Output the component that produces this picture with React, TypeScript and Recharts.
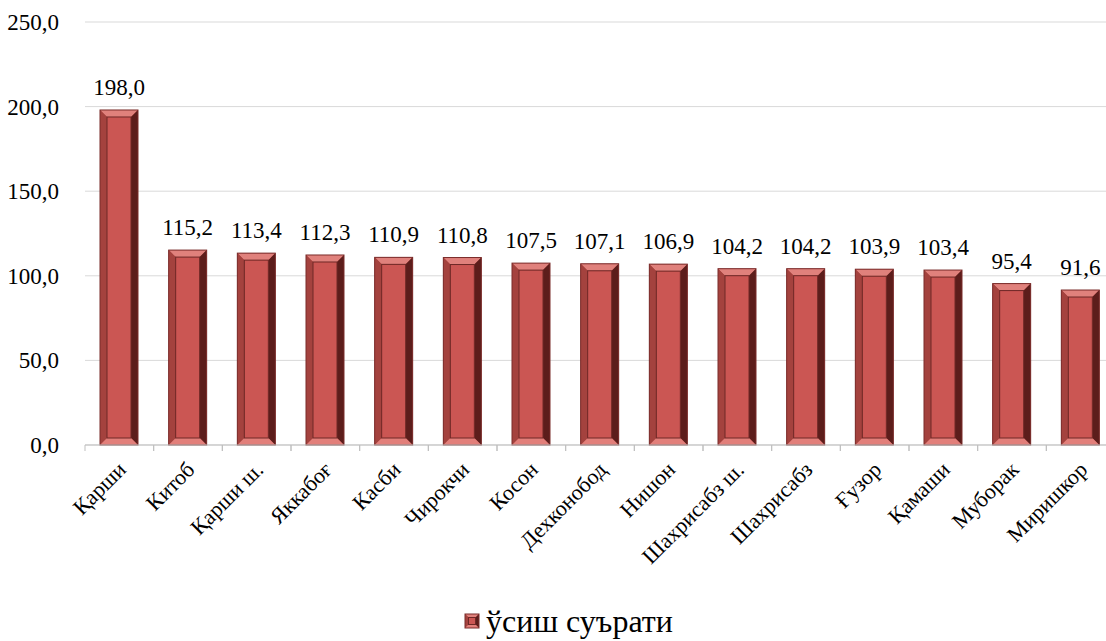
import React from 'react';
import { BarChart, Bar, XAxis, YAxis, CartesianGrid, LabelList, Legend } from 'recharts';

const districts = [
  'Қарши', 'Китоб', 'Қарши ш.', 'Яккабоғ', 'Касби', 'Чирокчи', 'Косон', 'Дехконобод',
  'Нишон', 'Шахрисабз ш.', 'Шахрисабз', 'Ғузор', 'Қамаши', 'Муборак', 'Миришкор',
];
const growth = [198.0, 115.2, 113.4, 112.3, 110.9, 110.8, 107.5, 107.1, 106.9, 104.2, 104.2, 103.9, 103.4, 95.4, 91.6];
const yTicks = [0, 50, 100, 150, 200, 250];
const seriesName = 'ўсиш суърати';

const data = districts.map((name, i) => ({ name, value: growth[i] }));

const serif = 'Liberation Serif, DejaVu Serif, serif';
const fmt = (v: any) => Number(v).toFixed(1).replace('.', ',');

// bevelled bar like the Excel original
const BevelBar = (props: any) => {
  const { x, y, width: w, height: h } = props;
  if (!w || !h) return null;
  const b = Math.min(7, w / 4, h / 4);
  return (
    <g>
      <rect x={x} y={y} width={w} height={h} fill="#A9433F" />
      <polygon points={`${x},${y} ${x + w},${y} ${x + w - b},${y + b} ${x + b},${y + b}`} fill="#E0817C" />
      <polygon points={`${x},${y} ${x + b},${y + b} ${x + b},${y + h - b} ${x},${y + h}`} fill="#A4423E" />
      <polygon points={`${x + w},${y} ${x + w},${y + h} ${x + w - b},${y + h - b} ${x + w - b},${y + b}`} fill="#5C1D1B" />
      <polygon points={`${x},${y + h} ${x + b},${y + h - b} ${x + w - b},${y + h - b} ${x + w},${y + h}`} fill="#E27F7A" />
      <rect x={x + b} y={y + b} width={w - 2 * b} height={h - 2 * b} fill="#CB5653" stroke="#6E2826" strokeWidth={1} />
      <rect x={x} y={y} width={w} height={h} fill="none" stroke="#7A2C2A" strokeWidth={1} />
    </g>
  );
};

const CategoryTick = (props: any) => {
  const { x, y, payload } = props;
  const off = payload.offset ?? 0;
  const tx = x + 8;
  const ty = y + 26;
  return (
    <g>
      <line x1={x - off} x2={x - off} y1={y} y2={y + 6} stroke="#BFBFBF" />
      <line x1={x + off} x2={x + off} y1={y} y2={y + 6} stroke="#BFBFBF" />
      <text
        x={tx}
        y={ty}
        transform={`rotate(-45, ${tx}, ${ty})`}
        textAnchor="end"
        fontFamily={serif}
        fontSize={22}
        fill="#000"
      >
        {payload.value}
      </text>
    </g>
  );
};

const ValueTick = (props: any) => {
  const { x, y, payload } = props;
  return (
    <text x={x} y={y} dy={8} textAnchor="end" fontFamily={serif} fontSize={23} fill="#000">
      {fmt(payload.value)}
    </text>
  );
};

const TopLabel = (props: any) => {
  const { x, y, width, value } = props;
  return (
    <text x={x + width / 2} y={y - 15} textAnchor="middle" fontFamily={serif} fontSize={23} fill="#000">
      {fmt(value)}
    </text>
  );
};

const LegendContent = () => (
  <div style={{ height: 36, display: 'flex', alignItems: 'center', justifyContent: 'center', paddingLeft: 22 }}>
    <svg width={16} height={16} style={{ marginRight: 6 }}>
      <BevelBar x={1} y={1} width={14} height={14} />
    </svg>
    <span style={{ fontFamily: serif, fontSize: 32, lineHeight: '36px', color: '#000' }}>{seriesName}</span>
  </div>
);

export default function App() {
  return (
    <div style={{ position: 'fixed', left: 0, top: 0, width: 1106, height: 641, overflow: 'hidden', background: '#fff', fontFamily: serif }}>
      <BarChart
        width={1120}
        height={641}
        data={data}
        margin={{ top: 22, right: 5, left: 0, bottom: 2 }}
        barSize={38}
      >
        <CartesianGrid vertical={false} stroke="#D9D9D9" />
        <XAxis
          dataKey="name"
          interval={0}
          height={158}
          stroke="#BFBFBF"
          tickLine={false}
          tickSize={0}
          tickMargin={0}
          tick={<CategoryTick />}
        />
        <YAxis
          width={85}
          domain={[0, 250]}
          ticks={yTicks}
          axisLine={false}
          tickLine={false}
          tickMargin={20}
          tick={<ValueTick />}
        />
        <Legend verticalAlign="bottom" content={<LegendContent />} />
        <Bar dataKey="value" name={seriesName} isAnimationActive={false} shape={<BevelBar />}>
          <LabelList dataKey="value" content={<TopLabel />} />
        </Bar>
      </BarChart>
    </div>
  );
}
